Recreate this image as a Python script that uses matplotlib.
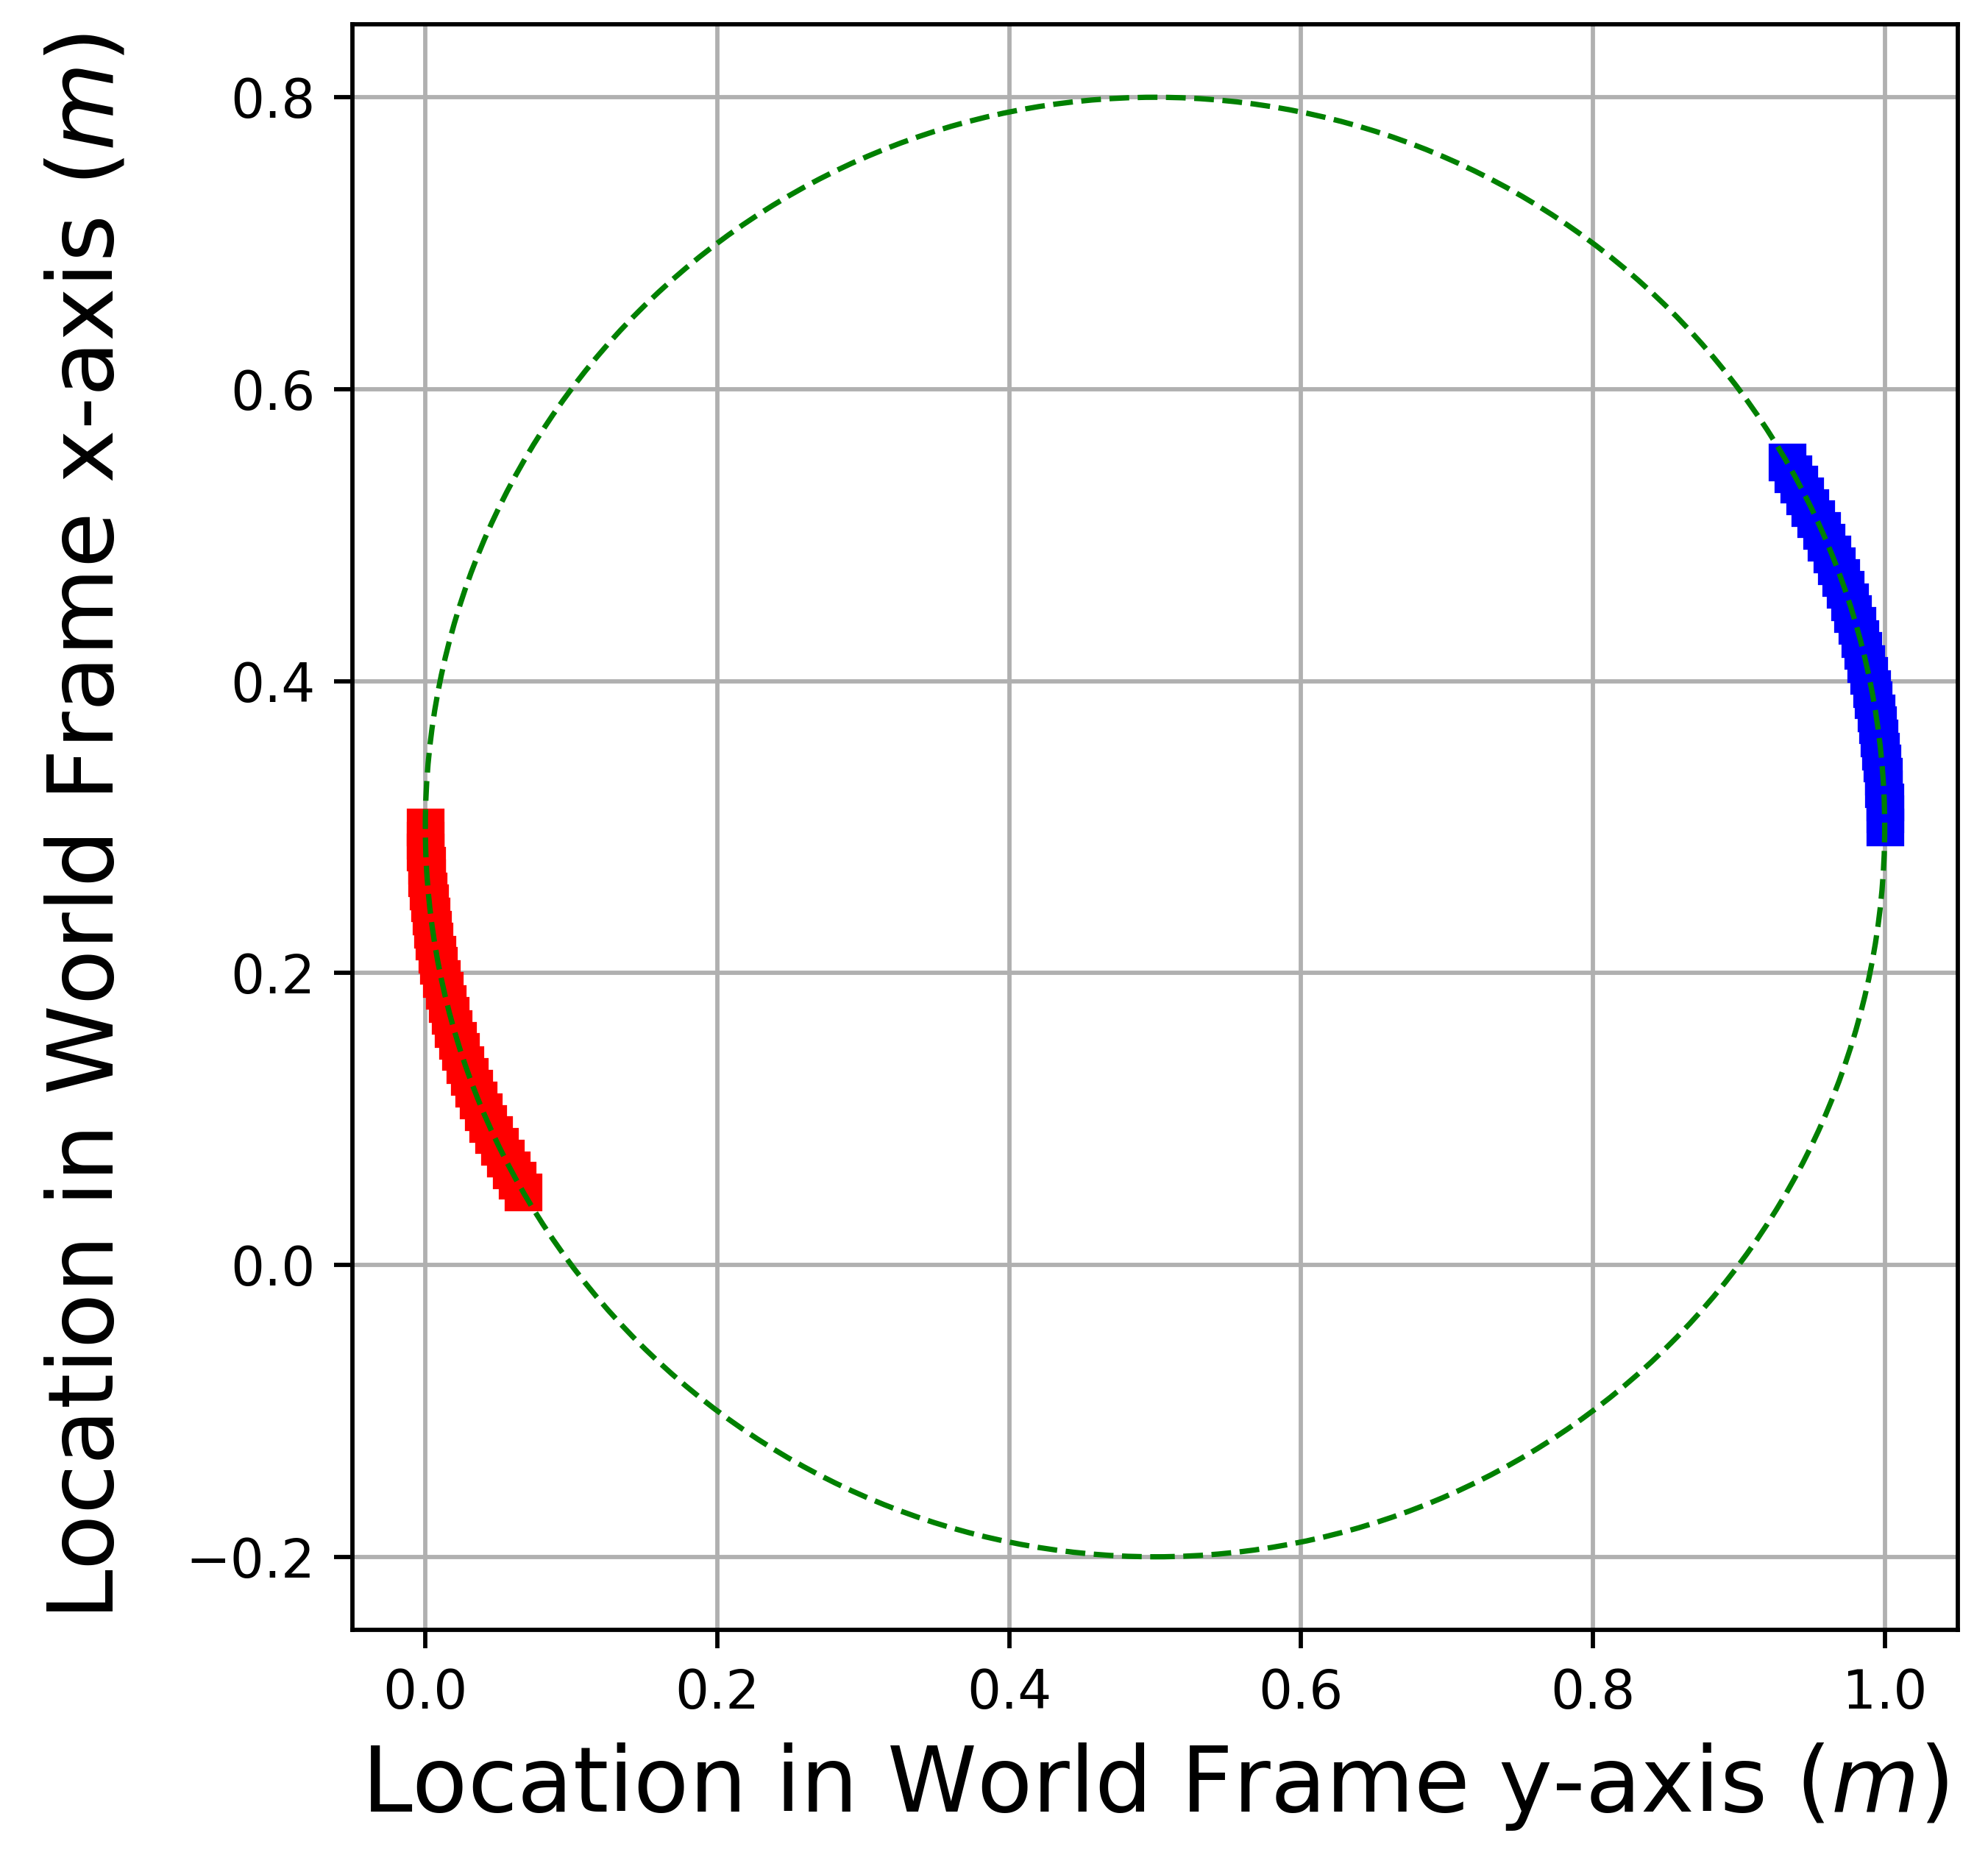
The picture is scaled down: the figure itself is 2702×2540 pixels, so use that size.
import matplotlib
matplotlib.use('Agg')
import matplotlib.pyplot as plt
from matplotlib.patches import Circle

#Reference path (dashed green circle)
circle_center = (0.5, 0.3)
circle_radius = 0.5

#Robot 1 positions (red), world y vs world x
red_y = [0.000, 0.000, 0.000, 0.001, 0.001, 0.002, 0.003, 0.004, 0.005, 0.006, 0.008,
         0.009, 0.011, 0.013, 0.015, 0.017, 0.019, 0.022, 0.024, 0.027, 0.030,
         0.033, 0.036, 0.040, 0.043, 0.047, 0.051, 0.055, 0.059, 0.063, 0.067]
red_x = [0.300, 0.291, 0.283, 0.274, 0.265, 0.256, 0.248, 0.239, 0.230, 0.222, 0.213,
         0.205, 0.196, 0.188, 0.179, 0.171, 0.162, 0.154, 0.146, 0.137, 0.129,
         0.121, 0.113, 0.105, 0.097, 0.089, 0.081, 0.073, 0.065, 0.058, 0.050]

#Robot 2 positions (blue)
blue_y = [1.000, 1.000, 1.000, 0.999, 0.999, 0.998, 0.997, 0.996, 0.995, 0.994, 0.992,
          0.991, 0.989, 0.987, 0.985, 0.983, 0.981, 0.978, 0.976, 0.973, 0.970,
          0.967, 0.964, 0.960, 0.957, 0.953, 0.949, 0.945, 0.941, 0.937, 0.933]
blue_x = [0.300, 0.309, 0.317, 0.326, 0.335, 0.344, 0.352, 0.361, 0.370, 0.378, 0.387,
          0.395, 0.404, 0.412, 0.421, 0.429, 0.438, 0.446, 0.454, 0.463, 0.471,
          0.479, 0.487, 0.495, 0.503, 0.511, 0.519, 0.527, 0.535, 0.542, 0.550]

fig = plt.figure(figsize=(2702/522, 2540/522), dpi=522)
ax = fig.add_axes([0.176, 0.128, 0.810, 0.859])

ax.plot(red_y, red_x, 'rs')
ax.plot(blue_y, blue_x, 'bs')
ax.add_patch(Circle(circle_center, circle_radius, fill=False, edgecolor='g',
                    linestyle='--', linewidth=1, zorder=3))

ax.set_xlim(-0.05, 1.05)
ax.set_ylim(-0.25, 0.85)
ax.set_aspect('equal')
ax.set_xlabel('Location in World Frame y-axis ($m$)', fontsize=17)
ax.set_ylabel('Location in World Frame x-axis ($m$)', fontsize=17, labelpad=10)
plt.grid()
plt.savefig('out.png', dpi=522)
